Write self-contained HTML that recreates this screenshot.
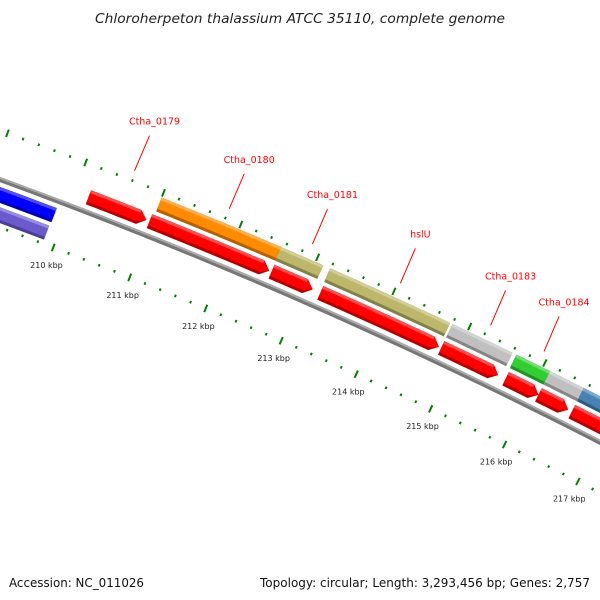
<!DOCTYPE html>
<html><head><meta charset="utf-8"><style>
html,body{margin:0;padding:0;background:#fff;}
svg{display:block;}
</style></head><body>
<svg id="chart" width="600" height="600" viewBox="0 0 600 600" xmlns="http://www.w3.org/2000/svg">
<rect width="600" height="600" fill="#fff"/>
<text x="300" y="23" text-anchor="middle" font-family="'DejaVu Sans', sans-serif" font-style="italic" font-size="13" fill="#222" textLength="410" lengthAdjust="spacingAndGlyphs">Chloroherpeton thalassium ATCC 35110, complete genome</text>
<g id="rulers"></g>
<g id="backbone"></g>
<g id="features"></g>
<g id="labels"></g>
<text x="9" y="587" font-family="'DejaVu Sans', sans-serif" font-size="12" fill="#111" textLength="135" lengthAdjust="spacingAndGlyphs">Accession: NC_011026</text>
<text x="260" y="587" font-family="'DejaVu Sans', sans-serif" font-size="12" fill="#111" textLength="330" lengthAdjust="spacingAndGlyphs">Topology: circular; Length: 3,293,456 bp; Genes: 2,757</text>
</svg>
<script>
// ---- data ----
const featStart = [205.0, 205.0, 210.18, 210.97, 212.56, 213.2, 214.8, 215.66, 216.1, 216.55, 211.0, 212.55, 213.19, 214.8, 215.65, 216.1, 216.55];
const featEnd   = [209.87, 209.86, 210.93, 212.53, 213.1, 214.77, 215.56, 216.1, 216.5, 218.5, 212.55, 213.1, 214.77, 215.6, 216.1, 216.55, 218.5];
const featSlot  = [-1, -2, 1, 1, 1, 1, 1, 1, 1, 1, 2, 2, 2, 2, 2, 2, 2];
const featColor = ['#0000ff','#6a5acd','#ff0000','#ff0000','#ff0000','#ff0000','#ff0000','#ff0000','#ff0000','#ff0000','#ff8c00','#bdb76b','#bdb76b','#c0c0c0','#32cd32','#c0c0c0','#4682b4'];
const featArrow = [0,0,1,1,1,1,1,1,1,1,0,0,0,0,0,0,0];
const labelText = ['Ctha_0179','Ctha_0180','Ctha_0181','hslU','Ctha_0183','Ctha_0184'];
const labelKbp  = [210.58, 211.8, 212.88, 214.03, 215.22, 215.93];
const tickMajor = [207, 208, 209, 210, 211, 212, 213, 214, 215, 216, 217, 218];
const tickLabels = ['207 kbp','208 kbp','209 kbp','210 kbp','211 kbp','212 kbp','213 kbp','214 kbp','215 kbp','216 kbp','217 kbp','218 kbp'];

// ---- geometry ----
const CX = -1820, CY = 5153;
const TH0 = -69.1, DEG_PER_KBP = 0.896;
const R0 = 5296;
const R = {bb:R0, s2o:R0+41, s2i:R0+26, s1o:R0+22, s1i:R0+7, m1o:R0-7, m1i:R0-22, m2o:R0-26, m2i:R0-41, rulO:5342, rulI:5251, lab:5232};
function ang(k){return (TH0 + (k-210)*DEG_PER_KBP)*Math.PI/180;}
function pt(r,k){const a=ang(k);return [CX + r*Math.cos(a), CY + r*Math.sin(a)];}
const NS='http://www.w3.org/2000/svg';
function mk(tag, parent){const e=document.createElementNS(NS,tag);parent.appendChild(e);return e;}
function arcPts(r,k0,k1,n){const p=[];for(let i=0;i<=n;i++)p.push(pt(r,k0+(k1-k0)*i/n));return p;}
function poly(pts){return pts.map(p=>p[0].toFixed(2)+','+p[1].toFixed(2)).join(' ');}

// ---- rulers ----
const rul = document.getElementById('rulers');
for (let m=0; m<tickMajor.length; m++){
  for (let j=0;j<5;j++){
    const k = tickMajor[m] + j*0.2;
    const len = j===0 ? 4 : 1.3;
    [R.rulO, R.rulI].forEach(function(r){
      const a = pt(r-len,k), b = pt(r+len,k);
      const l = mk('line', rul);
      
      
      l.setAttribute('x1',a[0]);l.setAttribute('y1',a[1]);l.setAttribute('x2',b[0]);l.setAttribute('y2',b[1]);
      l.setAttribute('stroke','#008000');l.setAttribute('stroke-width', 2);
    });
  }
  const lp = pt(R.lab, tickMajor[m]);
  const t = mk('text', rul);
  
  
  t.setAttribute('x', lp[0]); t.setAttribute('y', lp[1]+3);
  t.setAttribute('text-anchor','middle');
  t.setAttribute('font-family',"'DejaVu Sans', sans-serif");
  t.setAttribute('font-size','8');t.setAttribute('fill','#222');
  t.textContent = tickLabels[m];
}

// ---- backbone ----
const bbg = document.getElementById('backbone');
[[R.bb+2.5,R.bb-2.5,'#777'],[R.bb+2.5,R.bb+0.5,'#aaa']].forEach(function(s){
  const p = arcPts(s[0],205,219,40).concat(arcPts(s[1],219,205,40));
  const e = mk('polygon', bbg);
  
  
  e.setAttribute('points',poly(p));e.setAttribute('fill',s[2]);
});

// ---- features ----
const fg = document.getElementById('features');
function slotR(s){return s===2?[R.s2o,R.s2i]:s===1?[R.s1o,R.s1i]:s===-1?[R.m1o,R.m1i]:[R.m2o,R.m2i];}
function shade(hex,f){const n=parseInt(hex.slice(1),16);let r=n>>16,g=(n>>8)&255,b=n&255;
  if(f>0){r=r+(255-r)*f;g=g+(255-g)*f;b=b+(255-b)*f;}else{r=r*(1+f);g=g*(1+f);b=b*(1+f);}
  return 'rgb('+Math.round(r)+','+Math.round(g)+','+Math.round(b)+')';}
for (let i=0;i<featStart.length;i++){
  const rr = slotR(featSlot[i]); const ro=rr[0], ri=rr[1], rm=(ro+ri)/2;
  const k0=featStart[i], k1=featEnd[i];
  const head = featArrow[i] ? 0.1 : 0;
  const g = mk('g', fg);
  
  
  function shape(o,inn,col,nm){
    let p = arcPts(o,k0,k1-head,10);
    if(head) p.push(pt(rm,k1));
    p = p.concat(arcPts(inn,k1-head,k0,10));
    const e=mk('polygon',g);
    
    
    e.setAttribute('points',poly(p));e.setAttribute('fill',col);
  }
  shape(ro,ri,shade(featColor[i],-0.3),'feature-shadow');
  shape(ro,ri+3,featColor[i],'feature-body');
  const hp = arcPts(ro,k0,k1-head,10).concat(arcPts(ro-3,k1-head,k0,10));
  const h=mk('polygon',g);
  
  
  h.setAttribute('points',poly(hp));h.setAttribute('fill',shade(featColor[i],0.3));
}

// ---- labels ----
const lg = document.getElementById('labels');
for (let i=0;i<labelText.length;i++){
  const a = pt(R.rulO+10, labelKbp[i]);
  const b = [a[0]+15, a[1]-35];
  const l = mk('line', lg);
  
  
  l.setAttribute('x1',a[0]);l.setAttribute('y1',a[1]);l.setAttribute('x2',b[0]);l.setAttribute('y2',b[1]);
  l.setAttribute('stroke','#ff0000');l.setAttribute('stroke-width','1');
  const t = mk('text', lg);
  
  
  t.setAttribute('x',b[0]+5);t.setAttribute('y',b[1]-11);
  t.setAttribute('text-anchor','middle');
  t.setAttribute('font-family',"'DejaVu Sans', sans-serif");
  t.setAttribute('font-size','9.5');t.setAttribute('fill','#ff0000');
  t.textContent = labelText[i];
}
</script>
</body></html>
